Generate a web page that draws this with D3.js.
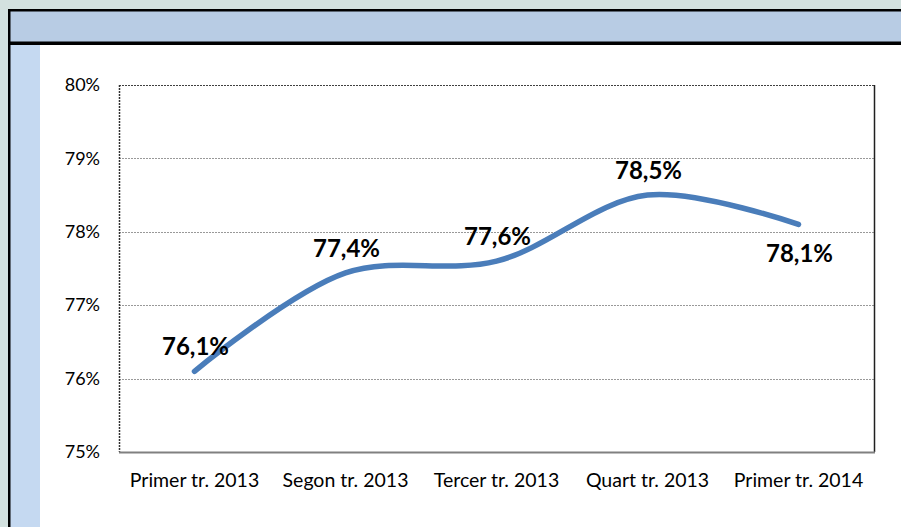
<!DOCTYPE html>
<html>
<head>
<meta charset="utf-8">
<script src="https://cdn.jsdelivr.net/npm/d3@7"></script>
<style>
  body { margin: 0; background: #d3e1df; }
  svg { display: block; }
</style>
</head>
<body>
<div id="chart"></div>
<script>
// chart data
const categories = ['Primer tr. 2013', 'Segon tr. 2013', 'Tercer tr. 2013', 'Quart tr. 2013', 'Primer tr. 2014'];
const values = [76.1, 77.44, 77.6, 78.5, 78.1];
const yTicks = [75, 76, 77, 78, 79, 80];
const labelPlacement = ['above', 'above', 'above', 'above', 'below'];

let W = 901, H = 527;
let plot = { left: 119, right: 874, top: 85, bottom: 452 };

let svg = d3.select('#chart')
    .append('svg')
    .attr('width', W)
    .attr('height', H);

// background + frame
svg.append('rect').attr('width', W).attr('height', H).attr('fill', '#d3e1df');
svg.append('rect').attr('x', 8).attr('y', 9).attr('width', W).attr('height', H)
    .attr('fill', '#ffffff');
svg.append('rect').attr('x', 8).attr('y', 9).attr('width', W).attr('height', 36)
    .attr('fill', '#b8cce4');
svg.append('rect').attr('x', 10).attr('y', 45).attr('width', 30).attr('height', H)
    .attr('fill', '#c5d9f1');
// black frame lines
svg.append('rect').attr('x', 8).attr('y', 9).attr('width', W).attr('height', 2.5).attr('fill', '#000');
svg.append('rect').attr('x', 8).attr('y', 41.5).attr('width', W).attr('height', 3.5).attr('fill', '#000');
svg.append('rect').attr('x', 8).attr('y', 9).attr('width', 2.5).attr('height', H).attr('fill', '#000');

// scales
const xScale = d3.scaleBand()
    .domain(categories)
    .range([plot.left, plot.right])
    .padding(0);

const yScale = d3.scaleLinear()
    .domain([75, 80])
    .range([plot.bottom, plot.top]);

const fontFamily = 'Lato, "Open Sans", sans-serif';

// gridlines
svg.append('g')
    .selectAll('line')
    .data(yTicks.filter(d => d > 75 && d < 80))
    .enter()
    .append('line')
    .attr('x1', plot.left)
    .attr('x2', plot.right)
    .attr('y1', d => Math.round(yScale(d)) + 0.5)
    .attr('y2', d => Math.round(yScale(d)) + 0.5)
    .attr('stroke', '#999')
    .attr('stroke-width', 1)
    .attr('stroke-dasharray', '2,1');

// plot area border
svg.append('line')
    .attr('x1', plot.left).attr('x2', plot.right)
    .attr('y1', plot.top + 0.5).attr('y2', plot.top + 0.5)
    .attr('stroke', '#404040').attr('stroke-dasharray', '2,1');
svg.append('line')
    .attr('x1', plot.left + 0.5).attr('x2', plot.left + 0.5)
    .attr('y1', plot.top).attr('y2', plot.bottom)
    .attr('stroke', '#303030').attr('stroke-width', 1.5).attr('stroke-dasharray', '2,1');
svg.append('line')
    .attr('x1', plot.right + 0.5).attr('x2', plot.right + 0.5)
    .attr('y1', plot.top).attr('y2', plot.bottom)
    .attr('stroke', '#202020').attr('stroke-width', 1.5);
svg.append('line')
    .attr('x1', plot.left).attr('x2', plot.right + 1)
    .attr('y1', plot.bottom + 0.5).attr('y2', plot.bottom + 0.5)
    .attr('stroke', '#808080').attr('stroke-width', 2);

// y axis labels
const yAxis = d3.axisLeft(yScale)
    .tickValues(yTicks)
    .tickSize(0)
    .tickPadding(19)
    .tickFormat(d => d + '%');

svg.append('g')
    .attr('class', 'y-axis')
    .attr('transform', `translate(${plot.left},0)`)
    .call(yAxis)
    .call(g => g.select('.domain').remove())
    .selectAll('text')
    .attr('font-family', fontFamily)
    .attr('font-size', '18px')
    .attr('fill', '#000');

// x axis labels
const xAxis = d3.axisBottom(xScale)
    .tickSize(0)
    .tickPadding(21);

svg.append('g')
    .attr('class', 'x-axis')
    .attr('transform', `translate(0,${plot.bottom})`)
    .call(xAxis)
    .call(g => g.select('.domain').remove())
    .selectAll('text')
    .attr('font-family', fontFamily)
    .attr('font-size', '19.5px')
    .attr('fill', '#000');

// smoothed line
const points = categories.map((c, i) => ({ cat: c, value: values[i], pos: labelPlacement[i] }));

const line = d3.line()
    .x(d => xScale(d.cat) + xScale.bandwidth() / 2)
    .y(d => yScale(d.value))
    .curve(d3.curveCatmullRom.alpha(0.5));

svg.append('path')
    .datum(points)
    .attr('d', line)
    .attr('fill', 'none')
    .attr('stroke', '#4a7dba')
    .attr('stroke-width', 5.5)
    .attr('stroke-linecap', 'round');

// data labels
const fmt = d3.format('.1f');
svg.append('g')
    .selectAll('text')
    .data(points)
    .enter()
    .append('text')
    .attr('x', d => xScale(d.cat) + xScale.bandwidth() / 2 + 1)
    .attr('y', d => yScale(d.value) + (d.pos === 'above' ? -16 : 38))
    .attr('text-anchor', 'middle')
    .attr('font-family', fontFamily)
    .attr('font-weight', 'bold')
    .attr('font-size', '24px')
    .attr('fill', '#000')
    .text(d => fmt(d.value).replace('.', ',') + '%');
</script>
</body>
</html>
